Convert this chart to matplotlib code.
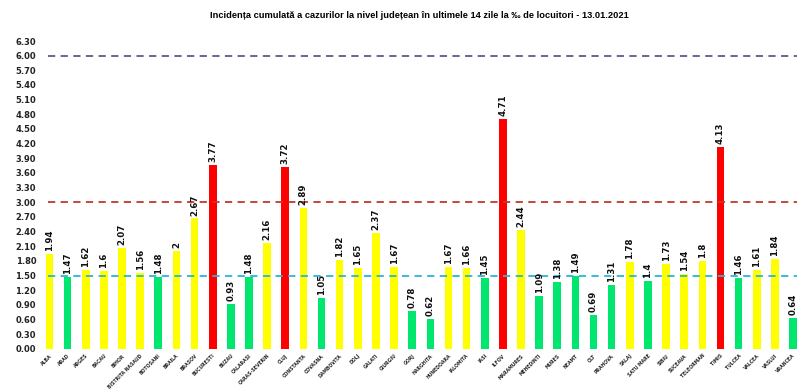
import matplotlib
matplotlib.use("Agg")
import matplotlib.pyplot as plt

judete = ["ALBA", "ARAD", "ARGES", "BACAU", "BIHOR", "BISTRITA NASAUD", "BOTOSANI",
          "BRAILA", "BRASOV", "BUCURESTI", "BUZAU", "CALARASI", "CARAS-SEVERIN", "CLUJ",
          "CONSTANTA", "COVASNA", "DAMBOVITA", "DOLJ", "GALATI", "GIURGIU", "GORJ",
          "HARGHITA", "HUNEDOARA", "IALOMITA", "IASI", "ILFOV", "MARAMURES", "MEHEDINTI",
          "MURES", "NEAMT", "OLT", "PRAHOVA", "SALAJ", "SATU MARE", "SIBIU", "SUCEAVA",
          "TELEORMAN", "TIMIS", "TULCEA", "VALCEA", "VASLUI", "VRANCEA"]
valori = [1.94, 1.47, 1.62, 1.6, 2.07, 1.56, 1.48, 2, 2.67, 3.77, 0.93, 1.48, 2.16, 3.72,
          2.89, 1.05, 1.82, 1.65, 2.37, 1.67, 0.78, 0.62, 1.67, 1.66, 1.45, 4.71, 2.44, 1.09,
          1.38, 1.49, 0.69, 1.31, 1.78, 1.4, 1.73, 1.54, 1.8, 4.13, 1.46, 1.61, 1.84, 0.64]
praguri = [1.5, 3.0, 6.0]
yticks = [0.00, 0.30, 0.60, 0.90, 1.20, 1.50, 1.80, 2.10, 2.40, 2.70, 3.00, 3.30, 3.60,
          3.90, 4.20, 4.50, 4.80, 5.10, 5.40, 5.70, 6.00, 6.30]
titlu = "Incidența cumulată a cazurilor la nivel județean în ultimele 14 zile la ‰ de locuitori - 13.01.2021"

plt.rcParams['font.family'] = ['DejaVu Sans']

def culoare(v):
    if v > 3.0:
        return "#ff0000"
    if v > 1.5:
        return "#ffff00"
    return "#00e66e"

fig = plt.figure(figsize=(8, 3.9), dpi=100)
ax = fig.add_axes([40.4 / 800, 1 - 349 / 390, 759 / 800, (349 - 41) / 390])

x = list(range(len(judete)))
ax.bar(x, valori, width=0.42, color=[culoare(v) for v in valori], zorder=2)

line_colors = {1.5: "#2bb5d8", 3.0: "#c0392b", 6.0: "#5b5b8f"}
for p in praguri:
    ax.plot([-0.1, 41.2], [p, p], linestyle=(0, (4, 3)), color=line_colors[p],
            linewidth=1.3, zorder=3)

for xi, v in zip(x, valori):
    ax.text(xi, v + 0.06, f"{v:g}", rotation=90, ha="center", va="bottom",
            fontsize=6.2, fontweight="bold", color="#111111", zorder=4)

ax.set_xlim(-0.5, 41.35)
ax.set_ylim(0, 6.3)
ax.set_yticks(yticks)
ax.set_yticklabels([f"{t:.2f}" for t in yticks], fontsize=6, fontweight="bold",
                   color="#222222")
ax.set_xticks(x)
ax.set_xticklabels(judete, rotation=45, ha="right", rotation_mode="anchor",
                   fontsize=3.3, fontweight="bold", color="#2a2a2a")
ax.tick_params(axis="both", length=0)
ax.tick_params(axis="y", pad=3)
ax.tick_params(axis="x", pad=3)
for s in ax.spines.values():
    s.set_visible(False)

fig.text(419 / 800, 1 - 16 / 390, titlu, ha="center", va="center", fontsize=6.7,
         fontweight="bold", family=["Liberation Sans", "DejaVu Sans"])

fig.savefig("out.png", dpi=100, facecolor="white")
